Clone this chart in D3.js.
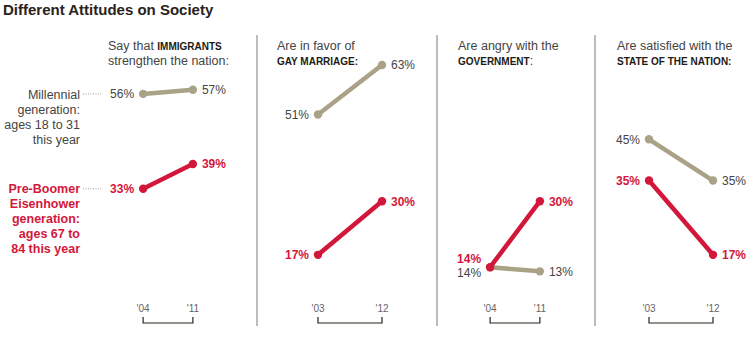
<!DOCTYPE html>
<html>
<head>
<meta charset="utf-8">
<script src="https://cdn.jsdelivr.net/npm/d3@7"></script>
<style>
  body { margin: 0; background: #fff; }
  svg { display: block; font-family: "Liberation Sans", Arial, sans-serif; }
</style>
</head>
<body>
<svg id="chart" width="750" height="340"></svg>
<script>
// survey topics, one small multiple each
const prefixes = ['Say that ', 'Are in favor of', 'Are angry with the', 'Are satisfied with the'];
const topics = ['IMMIGRANTS', 'GAY MARRIAGE:', 'GOVERNMENT', 'STATE OF THE NATION:'];
const suffixes = ['strengthen the nation:', '', ':', ''];
const startYears = [2004, 2003, 2004, 2003];
const endYears = [2011, 2012, 2011, 2012];
const yearLabels = [["'04", "'11"], ["'03", "'12"], ["'04", "'11"], ["'03", "'12"]];

// percentages, start year and end year
const millennialStart = [56, 51, 14, 45];
const millennialEnd = [57, 63, 13, 35];
const eisenhowerStart = [33, 17, 14, 35];
const eisenhowerEnd = [39, 30, 30, 17];

const millennialLabel = ['Millennial', 'generation:', 'ages 18 to 31', 'this year'];
const eisenhowerLabel = ['Pre-Boomer', 'Eisenhower', 'generation:', 'ages 67 to', '84 this year'];

const RED = '#d3173b';
const TAN = '#aaa287';
const TEXT = '#444';

const svg = d3.select('#chart');

// layout
const panelX = [136, 318, 483, 649];   // where 2003 sits in each panel
const headerX = [108, 277, 458, 617];
const dividers = [257, 437, 595];

const yScale = d3.scaleLinear().domain([0, 63]).range([325, 65]);
const yearScale = d3.scaleLinear().domain([2003, 2012]).range([0, 64]);

svg.append('text')
    .attr('x', 3).attr('y', 15)
    .style('font-size', '15px').style('font-weight', 'bold')
    .style('fill', '#2a2219')
    .text('Different Attitudes on Society');

svg.selectAll('.divider')
    .data(dividers).enter()
    .append('line')
    .attr('class', 'divider')
    .attr('x1', d => d).attr('x2', d => d)
    .attr('y1', 35).attr('y2', 326)
    .style('stroke', '#aaa69c').style('stroke-width', 1.5);

// group labels at left
const mill = svg.append('text')
    .attr('text-anchor', 'end')
    .style('font-size', '12.5px').style('fill', TEXT);
millennialLabel.forEach((t, i) => {
    mill.append('tspan').attr('x', 80).attr('y', 99 + i * 15).text(t);
});
const eis = svg.append('text')
    .attr('text-anchor', 'end')
    .style('font-size', '12.5px').style('font-weight', 'bold').style('fill', RED);
eisenhowerLabel.forEach((t, i) => {
    eis.append('tspan').attr('x', 80).attr('y', 193 + i * 15).text(t);
});

// dotted leaders
[millennialStart[0], eisenhowerStart[0]].forEach(v => {
    svg.append('line')
        .attr('x1', 83).attr('x2', 101)
        .attr('y1', yScale(v)).attr('y2', yScale(v))
        .style('stroke', '#999')
        .style('stroke-width', 1)
        .style('stroke-dasharray', '1,1.5');
});

topics.forEach((topic, i) => {
    const g = svg.append('g');
    const x = yr => panelX[i] + yearScale(yr);
    const x0 = x(startYears[i]), x1 = x(endYears[i]);

    // header
    const h1 = g.append('text')
        .attr('x', headerX[i]).attr('y', 50)
        .style('font-size', '12.5px').style('fill', TEXT);
    h1.append('tspan').text(prefixes[i]);
    const h2 = g.append('text')
        .attr('x', headerX[i]).attr('y', 65)
        .style('font-size', '12.5px').style('fill', TEXT);
    const bold = (sel) => sel.append('tspan')
        .style('font-size', '10px').style('font-weight', 'bold')
        .style('fill', '#1e1a14').text(topic);
    if (i === 0) {
        bold(h1);
        h2.append('tspan').text(suffixes[i]);
    } else {
        bold(h2);
        h2.append('tspan').text(suffixes[i]);
    }

    const series = [
        { s: millennialStart[i], e: millennialEnd[i], color: TAN, text: TEXT, weight: 'normal' },
        { s: eisenhowerStart[i], e: eisenhowerEnd[i], color: RED, text: RED, weight: 'bold' }
    ];

    series.forEach(d => {
        g.append('line')
            .attr('x1', x0).attr('y1', yScale(d.s))
            .attr('x2', x1).attr('y2', yScale(d.e))
            .style('stroke', d.color).style('stroke-width', 4.5)
            .style('stroke-linecap', 'round');
        [[x0, d.s], [x1, d.e]].forEach(([cx, v]) => {
            g.append('circle')
                .attr('cx', cx).attr('cy', yScale(v)).attr('r', 4.2)
                .style('fill', d.color);
        });
    });

    // value labels; the two 14% starts in the government panel are stacked
    series.forEach((d, k) => {
        let dyStart = 0;
        if (millennialStart[i] === eisenhowerStart[i]) dyStart = k === 0 ? 5 : -9;
        g.append('text')
            .attr('x', x0 - 9).attr('y', yScale(d.s) + dyStart)
            .attr('dy', '0.36em').attr('text-anchor', 'end')
            .style('font-size', '12px').style('font-weight', d.weight)
            .style('fill', d.text)
            .text(d.s + '%');
        g.append('text')
            .attr('x', x1 + 9).attr('y', yScale(d.e))
            .attr('dy', '0.36em')
            .style('font-size', '12px').style('font-weight', d.weight)
            .style('fill', d.text)
            .text(d.e + '%');
    });

    // year bracket
    g.append('path')
        .attr('d', `M${x0},317V323H${x1}V317`)
        .style('fill', 'none').style('stroke', '#2a2219').style('stroke-width', 1.2);
    [x0, x1].forEach((cx, k) => {
        g.append('text')
            .attr('x', cx).attr('y', 312)
            .attr('text-anchor', 'middle')
            .style('font-size', '10px').style('fill', '#666')
            .text(yearLabels[i][k]);
    });
});
</script>
</body>
</html>
